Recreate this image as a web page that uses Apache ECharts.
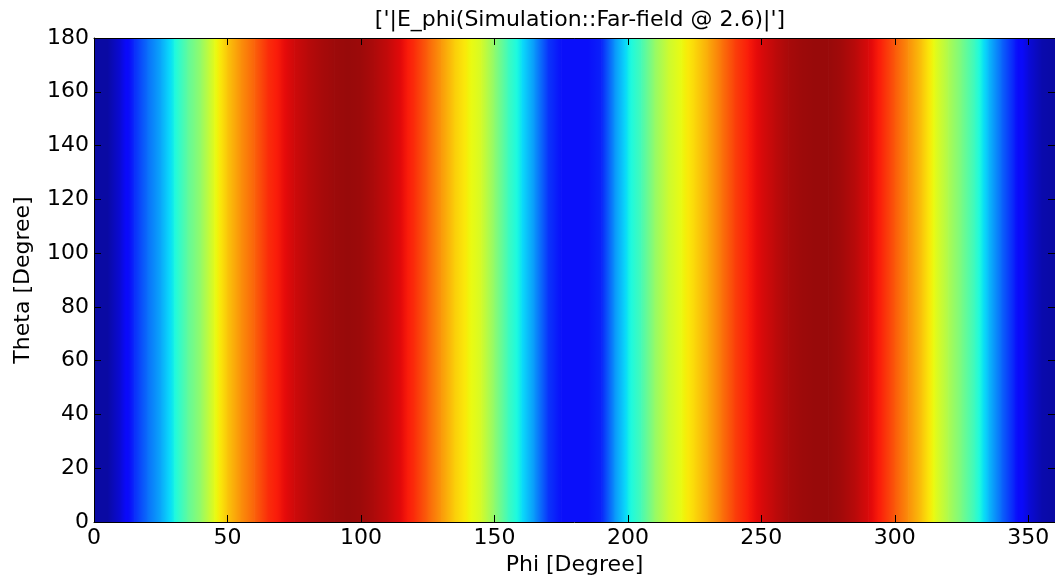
<!DOCTYPE html>
<html>
<head>
<meta charset="utf-8">
<script src="https://cdn.jsdelivr.net/npm/echarts@6/dist/echarts.min.js"></script>
<style>
  html, body { margin: 0; padding: 0; background: #fff; }
  #chart { width: 1055px; height: 578px; }
</style>
</head>
<body>
<div id="chart"></div>
<script>
// Phi sample positions (degrees) and normalized |E_phi| magnitude
const phiDeg = [0,5,10,15,20,25,30,35,40,45,50,55,60,65,70,75,80,85,90,95,100,105,110,115,120,125,130,135,140,145,150,155,160,165,170,175,180,185,190,195,200,205,210,215,220,225,230,235,240,245,250,255,260,265,270,275,280,285,290,295,300,305,310,315,320,325,330,335,340,345,350,355,360];
const eMag = [0.03,0.03,0.08,0.16,0.23,0.29,0.37,0.46,0.53,0.63,0.70,0.76,0.81,0.87,0.90,0.93,0.95,0.965,0.975,0.98,0.975,0.96,0.94,0.91,0.87,0.81,0.75,0.69,0.65,0.61,0.52,0.42,0.35,0.27,0.17,0.13,0.13,0.13,0.15,0.27,0.36,0.43,0.53,0.60,0.64,0.68,0.73,0.79,0.85,0.89,0.92,0.945,0.965,0.975,0.98,0.98,0.97,0.95,0.92,0.88,0.82,0.76,0.70,0.63,0.56,0.49,0.41,0.31,0.22,0.14,0.08,0.04,0.03];
const thetaRange = [0, 180];
const xTickValues = [0,50,100,150,200,250,300,350];
const yTickValues = [0,20,40,60,80,100,120,140,160,180];
const titleText = "['|E_phi(Simulation::Far-field @ 2.6)|']";
const xName = 'Phi [Degree]';
const yName = 'Theta [Degree]';

// matplotlib "jet" colormap
function interp(segs, v) {
  for (let i = 0; i < segs.length - 1; i++) {
    const a = segs[i], b = segs[i + 1];
    if (v >= a[0] && v <= b[0]) {
      const t = (b[0] === a[0]) ? 0 : (v - a[0]) / (b[0] - a[0]);
      return a[1] + t * (b[1] - a[1]);
    }
  }
  return segs[segs.length - 1][1];
}
const R = [[0,0],[0.35,0],[0.66,1],[0.89,1],[1,0.5]];
const G = [[0,0],[0.125,0],[0.375,1],[0.64,1],[0.91,0],[1,0]];
const B = [[0,0.5],[0.11,1],[0.34,1],[0.65,0],[1,0]];
function soften(c) { return Math.max(0, Math.min(255, Math.round(c * 0.94 + 10))); }
function jet(v) {
  v = Math.max(0, Math.min(1, v));
  const r = soften(255 * interp(R, v));
  const g = soften(255 * interp(G, v));
  const b = soften(255 * interp(B, v));
  return 'rgb(' + r + ',' + g + ',' + b + ')';
}

const cells = [];
for (let i = 0; i < phiDeg.length - 1; i++) {
  cells.push([phiDeg[i], phiDeg[i + 1], eMag[i], eMag[i + 1]]);
}

const FONT = 'DejaVu Sans';
const FS = 22;
const chart = echarts.init(document.getElementById('chart'), null, { renderer: 'canvas' });

const axisCommon = {
  type: 'value',
  axisLine: { show: true, onZero: false, lineStyle: { color: '#000', width: 1 } },
  splitLine: { show: false },
  z: 10
};

chart.setOption({
  animation: false,
  backgroundColor: '#fff',
  title: {
    text: titleText,
    left: 575,
    top: 4,
    textAlign: 'center',
    textStyle: { fontFamily: FONT, fontSize: FS, fontWeight: 'normal', color: '#000' }
  },
  grid: { left: 94, right: 0, top: 38, bottom: 56, containLabel: false, outerBoundsMode: 'none' },
  xAxis: [
    Object.assign({}, axisCommon, {
      min: 0, max: 360, position: 'bottom',
      axisTick: { show: true, inside: true, length: 7, customValues: xTickValues, lineStyle: { color: '#000' } },
      axisLabel: { customValues: xTickValues, fontFamily: FONT, fontSize: FS, color: '#000', margin: 5 },
      name: xName, nameLocation: 'middle', nameGap: 29,
      nameTextStyle: { fontFamily: FONT, fontSize: FS, color: '#000', verticalAlign: 'top' }
    }),
    Object.assign({}, axisCommon, {
      min: 0, max: 360, position: 'top',
      axisTick: { show: true, inside: true, length: 7, customValues: xTickValues, lineStyle: { color: '#000' } },
      axisLabel: { show: false }
    })
  ],
  yAxis: [
    Object.assign({}, axisCommon, {
      min: thetaRange[0], max: thetaRange[1], interval: 20, position: 'left',
      axisTick: { show: true, inside: true, length: 7, customValues: yTickValues, lineStyle: { color: '#000' } },
      axisLabel: { customValues: yTickValues, fontFamily: FONT, fontSize: FS, color: '#000', margin: 5 },
      name: yName, nameLocation: 'middle', nameGap: 60,
      nameTextStyle: { fontFamily: FONT, fontSize: FS, color: '#000' }
    }),
    Object.assign({}, axisCommon, {
      min: thetaRange[0], max: thetaRange[1], interval: 20, position: 'right',
      axisTick: { show: true, inside: true, length: 7, customValues: yTickValues, lineStyle: { color: '#000' } },
      axisLabel: { show: false }
    })
  ],
  series: [{
    type: 'custom',
    xAxisIndex: 0,
    yAxisIndex: 0,
    clip: true,
    data: cells,
    renderItem: function (params, api) {
      const x0 = api.value(0), x1 = api.value(1), v0 = api.value(2), v1 = api.value(3);
      const pTop = api.coord([x0, thetaRange[1]]);
      const pBot = api.coord([x1, thetaRange[0]]);
      const stops = [];
      const n = 8;
      for (let k = 0; k <= n; k++) {
        const t = k / n;
        stops.push({ offset: t, color: jet(v0 + t * (v1 - v0)) });
      }
      return {
        type: 'rect',
        shape: { x: pTop[0], y: pTop[1], width: pBot[0] - pTop[0] + 0.7, height: pBot[1] - pTop[1] },
        style: { fill: new echarts.graphic.LinearGradient(0, 0, 1, 0, stops) }
      };
    }
  }]
});
</script>
</body>
</html>
